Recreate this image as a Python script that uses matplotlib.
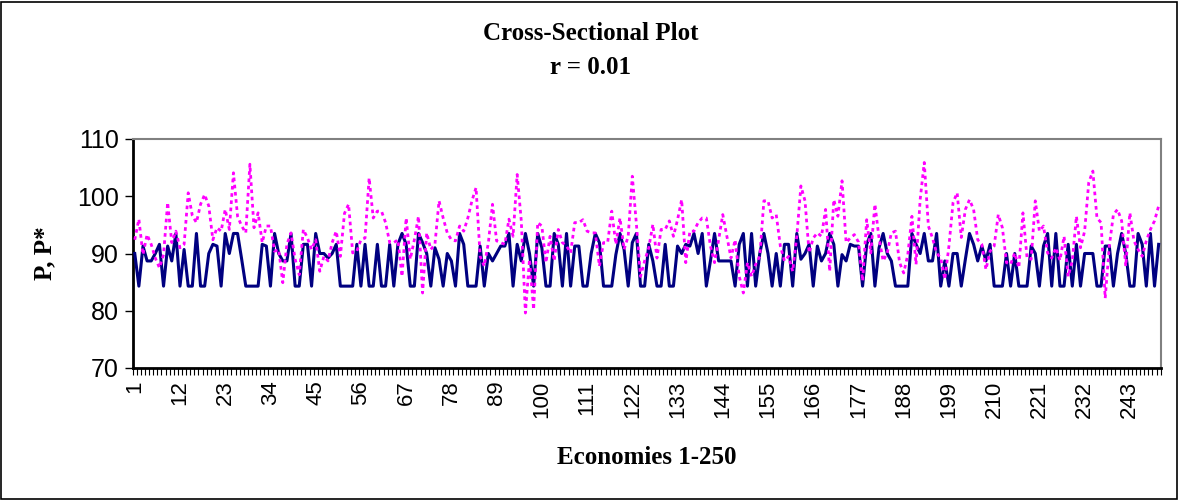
import numpy as np
import matplotlib
matplotlib.use("Agg")
import matplotlib.pyplot as plt
from matplotlib.ticker import FixedLocator

# P (solid navy) and P* (dotted magenta), economies 1..250
p_vals = [
    90, 84.3, 91.3, 88.7, 88.7, 90, 91.6, 84.3, 91.3, 88.7,
    93.5, 84.3, 90.7, 84.3, 84.3, 93.5, 84.3, 84.3, 90, 91.6,
    91.3, 84.3, 93.5, 90, 93.5, 93.5, 89, 84.3, 84.3, 84.3,
    84.3, 91.6, 91.3, 84.3, 93.5, 90, 88.7, 88.7, 93.5, 84.3,
    84.3, 91.6, 91.6, 84.3, 93.5, 90, 90, 89.2, 90, 91.6,
    84.3, 84.3, 84.3, 84.3, 91.6, 84.3, 91.6, 84.3, 84.3, 91.6,
    84.3, 84.3, 91.6, 84.3, 91.6, 93.5, 91.6, 84.3, 84.3, 93.5,
    91.9, 90, 84.3, 91, 89, 84.3, 90, 88.7, 84.3, 93.5,
    91.6, 84.3, 84.3, 84.3, 91.3, 84.3, 90, 88.7, 90, 91.3,
    91.3, 93.5, 84.3, 91.6, 88.7, 93.5, 90, 84.3, 93.5, 91,
    84.3, 84.3, 93.5, 91.6, 84.3, 93.5, 84.3, 91.3, 91.3, 84.3,
    84.3, 90, 93.5, 91.9, 84.3, 84.3, 84.3, 89.8, 93.5, 90.7,
    84.3, 91.9, 93.5, 84.3, 84.3, 91.6, 88.7, 84.3, 84.3, 91.6,
    84.3, 84.3, 91.3, 90, 91.6, 91.3, 93.5, 90, 93.5, 84.3,
    88.7, 93.5, 88.7, 88.7, 88.7, 88.7, 84.3, 91.6, 93.5, 84.3,
    93.5, 84.3, 90, 93.5, 90, 84.3, 90, 84.3, 91.6, 91.6,
    84.3, 93.5, 89, 90, 91.6, 84.3, 91.3, 88.7, 90, 93.5,
    91.6, 84.3, 89.8, 88.7, 91.6, 91.3, 91.3, 84.3, 91.6, 93.5,
    84.3, 91, 93.5, 90, 88.7, 84.3, 84.3, 84.3, 84.3, 93.5,
    91.6, 90, 93.5, 88.7, 88.7, 93.5, 84.3, 88.7, 84.3, 90,
    90, 84.3, 89, 93.5, 91.6, 88.7, 91.3, 88.7, 91.6, 84.3,
    84.3, 84.3, 90, 84.3, 90, 84.3, 84.3, 84.3, 91.3, 90,
    84.3, 91.3, 93.5, 84.3, 93.5, 84.3, 84.3, 91.6, 84.3, 91.6,
    84.3, 90, 90, 90, 84.3, 84.3, 91.3, 91.3, 84.3, 90,
    93.5, 90, 84.3, 84.3, 93.5, 91.6, 84.3, 93.5, 84.3, 91.6,
]

pstar_vals = [
    92.4, 96, 89.8, 93.3, 91.6, 89.2, 87.5, 89.8, 98.9, 91.9,
    93.9, 91, 91.6, 100.6, 96.6, 95.4, 98.6, 100.3, 98.3, 92.4,
    94.5, 93.9, 97.7, 94.2, 104.1, 96.5, 94.8, 93.6, 105.6, 94.5,
    97.1, 91.9, 94.8, 94.8, 90.4, 90.7, 84.9, 91.6, 93.6, 89,
    86.3, 94.2, 92.7, 90.7, 92.4, 86.9, 89.5, 88.7, 91.9, 93.9,
    89.5, 97, 98.6, 90.1, 90.4, 92.4, 92.7, 103.2, 96.2, 97.4,
    97.4, 95.4, 91.9, 91.9, 92.4, 86, 96.2, 89, 92.4, 96.5,
    83.1, 93.6, 90.7, 91.6, 99.2, 96.2, 93.6, 92.4, 92.2, 94.8,
    93.9, 96.2, 99.2, 101.5, 89.5, 87.8, 91.9, 98.6, 92.2, 91.9,
    91.6, 96, 93, 103.8, 95.7, 79.6, 89, 80.2, 95.4, 94.8,
    88.4, 93, 88.7, 94.2, 91.9, 91.3, 90.1, 95.4, 95.4, 95.9,
    93.9, 93.6, 93.6, 87.8, 91.9, 91.9, 97.4, 91.6, 96.2, 90.7,
    93, 103.5, 95.1, 86, 88.7, 91, 95.1, 89.2, 94.2, 94.2,
    95.7, 93, 95.9, 99.4, 88.4, 93.9, 93.9, 95.4, 96.2, 96.2,
    91.3, 88.4, 92.4, 96.8, 93, 89.2, 92.4, 86, 83.1, 88.4,
    86, 88.1, 89.5, 99.2, 99.2, 96.2, 96.8, 91.3, 88.7, 89.5,
    86.9, 93, 101.8, 99.2, 90.1, 92.7, 93.6, 93, 97.7, 86.9,
    99.4, 96.5, 102.7, 91.9, 92.7, 93.3, 92, 85.2, 95.9, 90.1,
    98.6, 92.7, 88.7, 90.1, 93.6, 93.9, 88.4, 86.6, 89.8, 96.5,
    88.1, 99.4, 105.9, 94.8, 92.7, 90.1, 89.2, 85.5, 91.3, 98.9,
    100.6, 92.8, 97.7, 99.4, 97.7, 92.4, 91.6, 87.2, 90.4, 91.3,
    96.8, 94.5, 88.4, 88.1, 90.1, 87.5, 97.1, 89.2, 89, 99.2,
    93.9, 94.8, 90.1, 89.2, 91, 88.8, 93, 86, 88.7, 96.5,
    91, 93.9, 102.4, 104.4, 96.2, 95.4, 82.2, 91.3, 96.8, 97.7,
    95.7, 87.8, 97.1, 92.2, 90.7, 89.5, 92.2, 94.2, 95.7, 98.3,
]

economies = np.arange(1, len(p_vals) + 1)
tick_labels = list(range(1, 251, 11))
y_ticks = [70, 80, 90, 100, 110]

serif = ["Liberation Serif", "DejaVu Serif"]
sans = ["Liberation Sans", "DejaVu Sans"]

fig = plt.figure(figsize=(11.81, 5.0), dpi=100)
ax = fig.add_axes([132.7 / 1181, 1 - 368 / 500, 1028 / 1181, 229 / 500])

ax.plot(economies, p_vals, color="#000080", lw=2.2, zorder=3)
ax.plot(economies, pstar_vals, color="#FF00FF", lw=2.0,
        linestyle=(0, (1.3, 1.3)), zorder=4)

ax.set_xlim(0.5, 250.5)
ax.set_ylim(70, 110)

# category boundary tick marks, labels every 11th economy
ax.xaxis.set_major_locator(FixedLocator(tick_labels))
ax.set_xticklabels([str(t) for t in tick_labels], rotation=90,
                   fontsize=16, family=sans)
ax.tick_params(axis="x", which="major", length=0, pad=9)
ax.xaxis.set_minor_locator(FixedLocator(np.arange(0.5, 251, 1)))
ax.tick_params(axis="x", which="minor", length=5, width=0.8,
               direction="out", color="black")

ax.set_yticks(y_ticks)
ax.set_yticklabels([str(t) for t in y_ticks], fontsize=18, family=sans)
ax.tick_params(axis="y", length=6, width=1, direction="out", pad=4)

for side in ["top", "right"]:
    ax.spines[side].set_color("#808080")
    ax.spines[side].set_linewidth(1.5)
for side in ["left", "bottom"]:
    ax.spines[side].set_color("black")
    ax.spines[side].set_linewidth(2)

fig.text(0.5, 1 - 33 / 500, "Cross-Sectional Plot", ha="center", va="center",
         fontsize=18, fontweight="bold", family=serif)
fig.text(0.5, 1 - 68 / 500, "r = 0.01", ha="center", va="center",
         fontsize=18, fontweight="bold", family=serif)
fig.text(45 / 1181, 1 - 253 / 500, "P, P*", rotation=90, ha="center",
         va="center", fontsize=18, fontweight="bold", family=serif)
fig.text(646.7 / 1181, 1 - 458 / 500, "Economies 1-250", ha="center",
         va="center", fontsize=18, fontweight="bold", family=serif)

# outer chart border
fig.patches.append(plt.Rectangle((0.001, 0.003), 0.996, 0.994,
                                 transform=fig.transFigure, fill=False,
                                 edgecolor="black", lw=1.2))

fig.savefig("out.png", dpi=100)
